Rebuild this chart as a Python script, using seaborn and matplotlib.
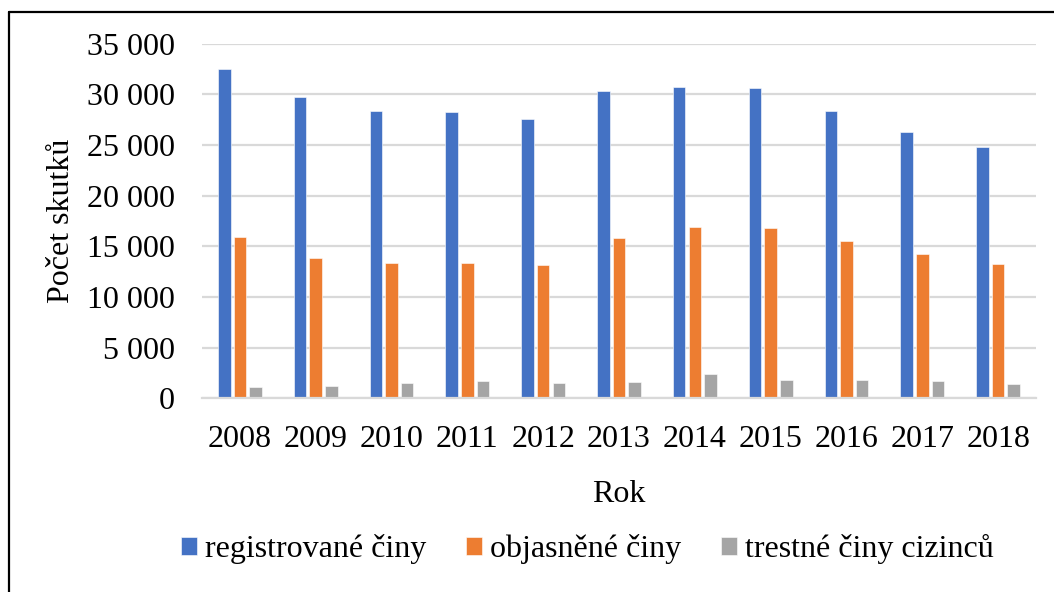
import seaborn as sns
import matplotlib.pyplot as plt
import matplotlib.ticker as mticker
from matplotlib.lines import Line2D
import pandas as pd

years = ["2008", "2009", "2010", "2011", "2012", "2013", "2014", "2015", "2016", "2017", "2018"]
registrovane = [32470, 29740, 28360, 28230, 27600, 30330, 30700, 30600, 28330, 26250, 24800]
objasnene = [15890, 13850, 13350, 13320, 13190, 15820, 16880, 16810, 15560, 14210, 13250]
cizinci = [1120, 1220, 1480, 1680, 1540, 1640, 2400, 1800, 1800, 1710, 1440]
series_names = ["registrované činy", "objasněné činy", "trestné činy cizinců"]
colors = ["#4472C4", "#ED7D31", "#A5A5A5"]

df = pd.DataFrame({
    "Rok": years * 3,
    "value": registrovane + objasnene + cizinci,
    "serie": [s for s in series_names for _ in years],
})

sns.set_style("white")
plt.rcParams["font.family"] = ["Liberation Serif", "DejaVu Serif"]
plt.rcParams["text.color"] = "black"
plt.rcParams["axes.labelcolor"] = "black"
plt.rcParams["xtick.color"] = "black"
plt.rcParams["ytick.color"] = "black"

fig = plt.figure(figsize = (10.54, 5.92), dpi = 100)
ax = fig.add_axes([202 / 1054, 1 - 398.3 / 592, (1036 - 202) / 1054, (398.3 - 43.7) / 592])

sns.barplot(data = df, x = "Rok", y = "value", hue = "serie", order = years, hue_order = series_names,
            palette = colors, width = 0.62, gap = 0.2, saturation = 1, ax = ax,
            edgecolor = "white", linewidth = 0.4)

ax.set_ylim(0, 35000)
ax.set_yticks(range(0, 35001, 5000))
ax.yaxis.set_major_formatter(mticker.FuncFormatter(lambda v, p: f"{int(v):,}".replace(",", " ")))
ax.grid(axis = "y", color = "#d9d9d9", linewidth = 1.6)
ax.set_axisbelow(True)
for s in ["top", "right", "left"]:
    ax.spines[s].set_visible(False)
ax.spines["bottom"].set_color("#d9d9d9")
ax.spines["bottom"].set_linewidth(1.6)
ax.tick_params(axis = "both", length = 0, labelsize = 23, labelcolor = "black")
ax.tick_params(axis = "y", pad = 19.5)
ax.tick_params(axis = "x", pad = 19)
ax.set_xlabel("Rok", fontsize = 23, labelpad = 19)
ax.set_ylabel("Počet skutků", fontsize = 23, labelpad = 8)

handles, labels = ax.get_legend_handles_labels()
ax.get_legend().remove()
fig.legend(handles, labels, loc = "center", bbox_to_anchor = (0.557, 1 - 549 / 592), ncol = 3,
           frameon = False, fontsize = 23, handlelength = 0.5, handleheight = 0.5,
           handletextpad = 0.25, columnspacing = 1.25)

# outer frame (top and left edges visible)
fig.add_artist(Line2D([9 / 1054, 1], [1 - 12 / 592, 1 - 12 / 592], color = "black", linewidth = 1.6, transform = fig.transFigure))
fig.add_artist(Line2D([9 / 1054, 9 / 1054], [0, 1 - 12 / 592], color = "black", linewidth = 1.6, transform = fig.transFigure))

plt.savefig("out.png", dpi = 100)
plt.close()
